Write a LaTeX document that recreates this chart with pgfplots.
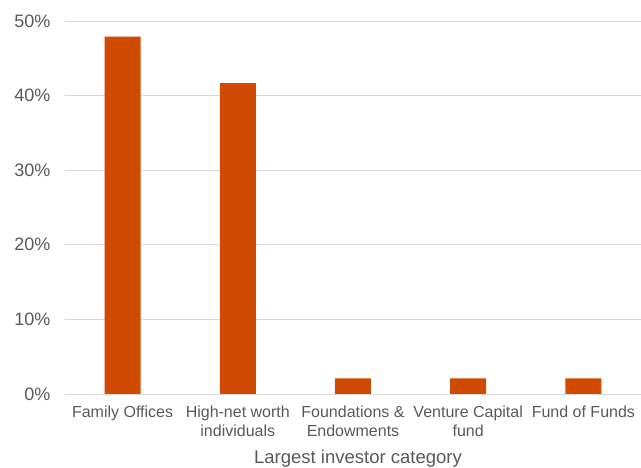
\documentclass[border=0pt]{standalone}
\usepackage{fontspec}
\setmainfont{Liberation Sans}
\usepackage{pgfplots}
\pgfplotsset{compat=1.18}
\definecolor{barorange}{HTML}{D04A02}
\definecolor{txtgray}{HTML}{595959}
\definecolor{gridgray}{HTML}{D9D9D9}
\begin{document}
\begin{tikzpicture}
\begin{axis}[
  scale only axis,
  width=576pt, height=373pt,
  ybar, bar width=36pt,
  xmin=-0.5, xmax=4.5,
  ymin=0, ymax=50,
  ytick={0,10,...,50},
  xtick=data,
  xticklabels={Family Offices, High-net worth\\individuals, Foundations \&\\Endowments, Venture Capital\\fund, Fund of Funds},
  x tick label style={font=\fontsize{16}{19}\selectfont, align=center, text=txtgray},
  y tick label style={font=\fontsize{18}{20}\selectfont, text=txtgray},
  yticklabel={\pgfmathprintnumber{\tick}\%},
  /pgf/number format/assume math mode=true,
  xlabel={Largest investor category},
  xlabel style={font=\fontsize{18.5}{20}\selectfont, text=txtgray, yshift=-7pt, xshift=5pt},
  axis line style={draw=none},
  major tick length=0pt,
  ymajorgrids, grid style={gridgray, line width=0.9pt},
  yticklabel style={xshift=-11pt},
  xticklabel style={yshift=-8pt},
]
\addplot[fill=barorange, draw=none] coordinates {
  (0,47.92) (1,41.67) (2,2.08) (3,2.08) (4,2.08)
};
\end{axis}
\pgfresetboundingbox
\path[use as bounding box] (-65pt,-74pt) rectangle (576pt,394pt);
\end{tikzpicture}
\end{document}
